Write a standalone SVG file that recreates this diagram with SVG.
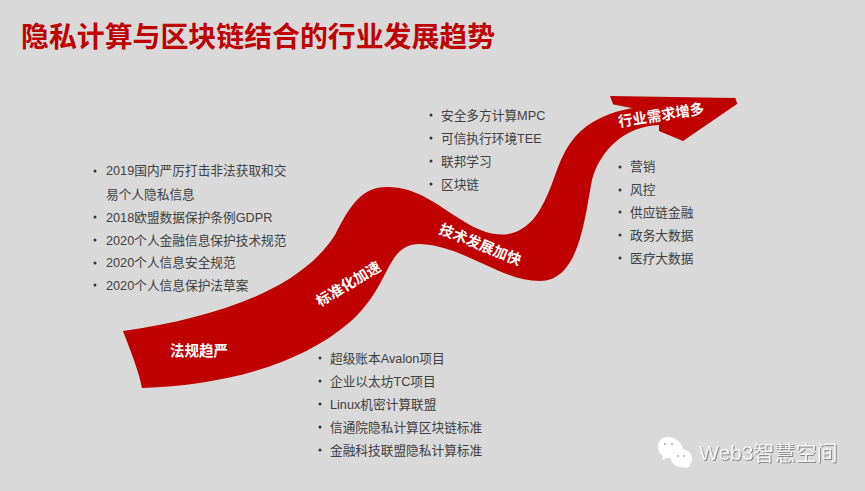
<svg xmlns="http://www.w3.org/2000/svg" width="865" height="491" viewBox="0 0 865 491">
<style>
text{font-family:"Liberation Sans","Noto Sans CJK SC",sans-serif}
.b{font-size:12.7px;fill:#404040}
.d{fill:#333}
.w{font-size:14.5px;font-weight:700;fill:#fff}
.e{fill:none;stroke:#a00000;stroke-width:.6}
.m{filter:drop-shadow(1px 1px 0.5px #8a8a8a)}
</style>
<rect width="865" height="491" fill="#d9d9d9"/>
<text id="title" x="21" y="47" font-size="27.9" font-weight="700" fill="#c00000">隐私计算与区块链结合的行业发展趋势</text>
<g id="ribbon">
<path fill="#c00000" d="M123 331C215 318 300 290 335 235C350 205 362 187 387 187C420 187 440 208 470 225C490 236 515 242 535 217C555 190 555 160 575 137C590 120 610 112 633 108L613 104L610 96L735 98L737 104L683 141L659 131L659 125C625 126 600 150 592 180C585 215 580 281 540 281C500 281 465 246 420 244C385 244 392 285 350 322C300 365 225 385 142 388C138 368 130 350 123 331Z"/>
<path class="e" d="M613 104L633 108M735 98L683 118L683 141M735 98L737 104"/>
<text class="w" transform="translate(170 356)">法规趋严</text>
<text class="w" transform="translate(320 307) rotate(-31)">标准化加速</text>
<text class="w" transform="translate(438 233) rotate(22)">技术发展加快</text>
<text class="w" transform="translate(619 127) rotate(-9)">行业需求增多</text>
</g>
<g id="list-law">
<circle class="d" cx="95" cy="171" r="1.5"/><text class="b" x="106" y="175">2019国内严厉打击非法获取和交</text>
<text class="b" x="106" y="199">易个人隐私信息</text>
<circle class="d" cx="95" cy="217" r="1.5"/><text class="b" x="106" y="222">2018欧盟数据保护条例GDPR</text>
<circle class="d" cx="95" cy="240" r="1.5"/><text class="b" x="106" y="245">2020个人金融信息保护技术规范</text>
<circle class="d" cx="95" cy="263" r="1.5"/><text class="b" x="106" y="267">2020个人信息安全规范</text>
<circle class="d" cx="95" cy="285" r="1.5"/><text class="b" x="106" y="290">2020个人信息保护法草案</text>
</g>
<g id="list-std">
<circle class="d" cx="320" cy="358" r="1.5"/><text class="b" x="330" y="363">超级账本Avalon项目</text>
<circle class="d" cx="320" cy="381" r="1.5"/><text class="b" x="330" y="386">企业以太坊TC项目</text>
<circle class="d" cx="320" cy="404" r="1.5"/><text class="b" x="330" y="409">Linux机密计算联盟</text>
<circle class="d" cx="320" cy="427" r="1.5"/><text class="b" x="330" y="432">信通院隐私计算区块链标准</text>
<circle class="d" cx="320" cy="450" r="1.5"/><text class="b" x="330" y="455">金融科技联盟隐私计算标准</text>
</g>
<g id="list-tech">
<circle class="d" cx="431" cy="115" r="1.5"/><text class="b" x="441" y="120">安全多方计算MPC</text>
<circle class="d" cx="431" cy="138" r="1.5"/><text class="b" x="441" y="143">可信执行环境TEE</text>
<circle class="d" cx="431" cy="161" r="1.5"/><text class="b" x="441" y="166">联邦学习</text>
<circle class="d" cx="431" cy="184" r="1.5"/><text class="b" x="441" y="189">区块链</text>
</g>
<g id="list-ind">
<circle class="d" cx="620" cy="167" r="1.5"/><text class="b" x="630" y="171">营销</text>
<circle class="d" cx="620" cy="190" r="1.5"/><text class="b" x="630" y="194">风控</text>
<circle class="d" cx="620" cy="212" r="1.5"/><text class="b" x="630" y="217">供应链金融</text>
<circle class="d" cx="620" cy="235" r="1.5"/><text class="b" x="630" y="240">政务大数据</text>
<circle class="d" cx="620" cy="258" r="1.5"/><text class="b" x="630" y="263">医疗大数据</text>
</g>
<g id="watermark">
<path fill="#fff" d="M668 437C661 437 658 442 658 447C658 451 660 454 663 456L662 460L667 458L671 458C672 452 676 449 683 449C682 442 675 437 668 437Z"/>
<path fill="#fff" d="M681 449C675 449 671 454 671 458C671 463 675 467 681 467L687 468L690 466C690 463 692 462 692 458C692 453 687 449 681 449Z"/>
<circle cx="665" cy="444" r="1.1" fill="#aaa"/><circle cx="672" cy="444" r="1.1" fill="#aaa"/><circle cx="678" cy="456" r="1" fill="#aaa"/><circle cx="684" cy="456" r="1" fill="#aaa"/>
<text class="m" x="699" y="460" font-size="21" fill="#f4f4f4">Web3智慧空间</text>
</g>
</svg>
